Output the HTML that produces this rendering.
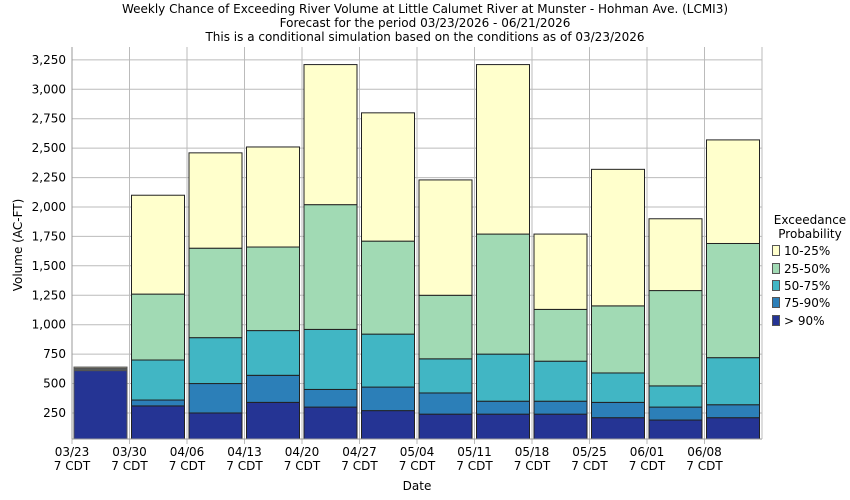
<!DOCTYPE html>
<html><head><meta charset="utf-8"><style>
body{margin:0;background:#fff}
svg{display:block;font-family:"DejaVu Sans","Liberation Sans",sans-serif}
</style></head><body>
<svg id="s" width="850" height="500" xmlns="http://www.w3.org/2000/svg">
<rect width="850" height="500" fill="#fff"/>
<g font-size="12" text-anchor="middle" fill="#000">
<text x="425" y="13">Weekly Chance of Exceeding River Volume at Little Calumet River at Munster - Hohman Ave. (LCMI3)</text>
<text x="425" y="27">Forecast for the period 03/23/2026 - 06/21/2026</text>
<text x="425" y="41">This is a conditional simulation based on the conditions as of 03/23/2026</text>
</g>
<g id="g"></g>
<text x="417" y="490" font-size="12" text-anchor="middle">Date</text>
<text transform="translate(22,245) rotate(-90)" font-size="12" text-anchor="middle">Volume (AC-FT)</text>
<g font-size="12">
<text x="810" y="224" text-anchor="middle">Exceedance</text>
<text x="810" y="238" text-anchor="middle">Probability</text>
<rect x="772.5" y="245.5" width="7" height="10" fill="#ffffcc" stroke="#555"/><text x="784" y="255">10-25%</text>
<rect x="772.5" y="263.5" width="7" height="10" fill="#a1dab4" stroke="#555"/><text x="784" y="273">25-50%</text>
<rect x="772.5" y="280.5" width="7" height="10" fill="#41b6c4" stroke="#555"/><text x="784" y="290">50-75%</text>
<rect x="772.5" y="297.5" width="7" height="10" fill="#2c7fb8" stroke="#555"/><text x="784" y="307">75-90%</text>
<rect x="772.5" y="315.5" width="7" height="10" fill="#253494" stroke="#555"/><text x="784" y="325">&gt; 90%</text>
</g>
</svg>
<script>
const g=document.getElementById('g');let h='';
const Y=v=>442.4-v*0.1177;
const L=72,R=762,T=47,B=439;
for(let i=1;i<=13;i++){const y=Y(i*250).toFixed(1);h+=`<line x1="${L}" x2="${R}" y1="${y}" y2="${y}" stroke="#bbb"/>`;
h+=`<text x="${L-6}" y="${+y+4}" font-size="12" text-anchor="end">${(i*250).toLocaleString('en-US')}</text>`;}
const labs=['03/23','03/30','04/06','04/13','04/20','04/27','05/04','05/11','05/18','05/25','06/01','06/08'];
for(let i=0;i<12;i++){const x=L+i*57.5;h+=`<line x1="${x}" x2="${x}" y1="${T}" y2="${B+5}" stroke="#bbb"/>`;
h+=`<text x="${x}" y="${B+17}" font-size="12" text-anchor="middle">${labs[i]}</text><text x="${x}" y="${B+31}" font-size="12" text-anchor="middle">7 CDT</text>`;}
const d=[[610,615,625,630,640],[310,360,700,1260,2100],[250,500,890,1650,2460],[340,570,950,1660,2510],[300,450,960,2020,3210],[270,470,920,1710,2800],[240,420,710,1250,2230],[240,350,750,1770,3210],[240,350,690,1130,1770],[210,340,590,1160,2320],[190,300,480,1290,1900],[210,320,720,1690,2570]];
const c=['#253494','#2c7fb8','#41b6c4','#a1dab4','#ffffcc'];
d.forEach((b,i)=>{const x=L+i*57.5+2,w=53;let prev=B;
b.forEach((v,k)=>{const y=Y(v);h+=`<rect x="${x}" y="${y}" width="${w}" height="${prev-y}" fill="${c[k]}" stroke="${i==0?'#555':'#222'}" stroke-width="1"/>`;prev=y;});});
h+=`<line x1="${L}" x2="${L}" y1="${T}" y2="${B}" stroke="#999"/><line x1="${L}" x2="${R}" y1="${B}" y2="${B}" stroke="#999"/><line x1="${R}" x2="${R}" y1="${T}" y2="${B}" stroke="#bbb"/>`;
g.innerHTML=h;
</script>
</body></html>
